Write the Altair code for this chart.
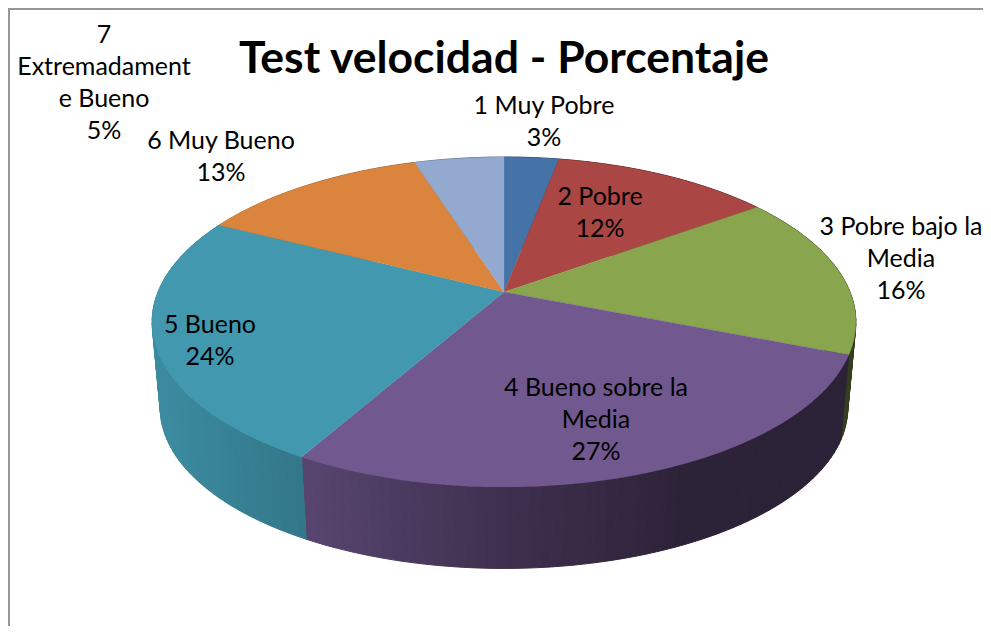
import math
import altair as alt
import pandas as pd

# ---- data ----
names = ["1 Muy Pobre", "2 Pobre", "3 Pobre bajo la\nMedia", "4 Bueno sobre la\nMedia",
         "5 Bueno", "6 Muy Bueno", "7\nExtremadament\ne Bueno"]
percent = [3, 12, 16, 27.2, 24.3, 12.6, 4.9]
colors = ["#4572A7", "#AA4643", "#89A54E", "#71588F", "#4198AF", "#DB843D", "#93A9CF"]
title_text = "Test velocidad - Porcentaje"

# ---- layout ----
W, H = 975, 618
CX, CY = 496, 284            # pie apex inside the plot area
K = 0.1818                   # perspective strength of the tilted disc
TOP_A, TOP_B = 346.0, 159.5
BOT_A, BOT_B, BOT_DY = 338.0, 155.0, 87.0
label_x = [536, 592, 893, 588, 202, 213, 96]
label_y = [106, 197, 227, 388, 325, 141, 35]
shade_stops = [(-354, .92), (-199, .78), (-4, .55), (176, .40), (356, .38)]


def top_pt(theta):
    u, v = math.sin(theta), -math.cos(theta)
    d = 1 - K * v
    return [TOP_A * u / d, TOP_B * v / d]


def bot_pt(theta):
    u, v = math.sin(theta), -math.cos(theta)
    d = 1 - K * v
    return [BOT_A * u / d, BOT_B * v / d + BOT_DY]


def shade(x):
    for (x0, s0), (x1, s1) in zip(shade_stops, shade_stops[1:]):
        if x <= x1:
            return s0 + (s1 - s0) * (x - x0) / (x1 - x0)
    return shade_stops[-1][1]


def darker(hex_color, s):
    rgb = [int(hex_color[i:i + 2], 16) for i in (1, 3, 5)]
    return "#%02x%02x%02x" % tuple(int(round(c * s)) for c in rgb)


def feature(ring, color):
    return {"type": "Feature",
            "geometry": {"type": "Polygon", "coordinates": [ring + [ring[0]]]},
            "properties": {"color": color}}


total = sum(percent)
edges = [0]
for p in percent:
    edges.append(edges[-1] + p)
angles = [e / total * 2 * math.pi for e in edges]

walls, tops = [], []
for i, c in enumerate(colors):
    a0, a1 = angles[i], angles[i + 1]
    n = max(2, int((a1 - a0) / math.radians(1.5)))
    steps = [a0 + (a1 - a0) * j / n for j in range(n + 1)]
    for t0, t1 in zip(steps, steps[1:]):
        p0, p1 = top_pt(t0), top_pt(t1)
        walls.append(feature([p0, p1, bot_pt(t1), bot_pt(t0)],
                             darker(c, shade((p0[0] + p1[0]) / 2))))
    tops.append(feature([[0, 0]] + [top_pt(t) for t in steps], c))

projection = alt.Projection(type="identity", scale=1, translate=[CX, CY])


def shapes(features, sw):
    src = alt.InlineData(values={"type": "FeatureCollection", "features": features},
                         format=alt.DataFormat(property="features", type="json"))
    return alt.Chart(src).mark_geoshape(strokeWidth=sw).encode(
        fill=alt.Color("properties.color:N", scale=None),
        stroke=alt.Color("properties.color:N", scale=None),
    ).project(**projection.to_dict())


layers = [shapes(walls, 1.0), shapes(tops, 0.3)]

for name, p, x, y in zip(names, percent, label_x, label_y):
    df = pd.DataFrame({"label": [f"{name}\n{round(p)}%"]})
    layers.append(
        alt.Chart(df).mark_text(font="Lato", fontSize=25, color="#000000", align="center",
                                baseline="alphabetic", lineBreak="\n", lineHeight=32).encode(
            x=alt.value(x), y=alt.value(y), text="label:N")
    )

border = alt.Chart(pd.DataFrame({"a": [0]}))
layers.append(border.mark_rule(color="#969696", strokeWidth=2).encode(
    x=alt.value(1), y=alt.value(0), y2=alt.value(H)))
layers.append(border.mark_rule(color="#969696", strokeWidth=2).encode(
    x=alt.value(0), x2=alt.value(W), y=alt.value(1)))

chart = alt.layer(*layers).properties(
    width=W, height=H, padding=0,
    autosize=alt.AutoSizeParams(type="none"),
    title=alt.TitleParams(title_text, font="Lato", fontSize=44.5, fontWeight="bold", color="#000000",
                          anchor="start", frame="group", align="center", dx=496, dy=110,
                          offset=0, baseline="alphabetic"),
).configure_view(stroke=None)

chart.save("out.html", embed_options={"renderer": "svg", "actions": False})
